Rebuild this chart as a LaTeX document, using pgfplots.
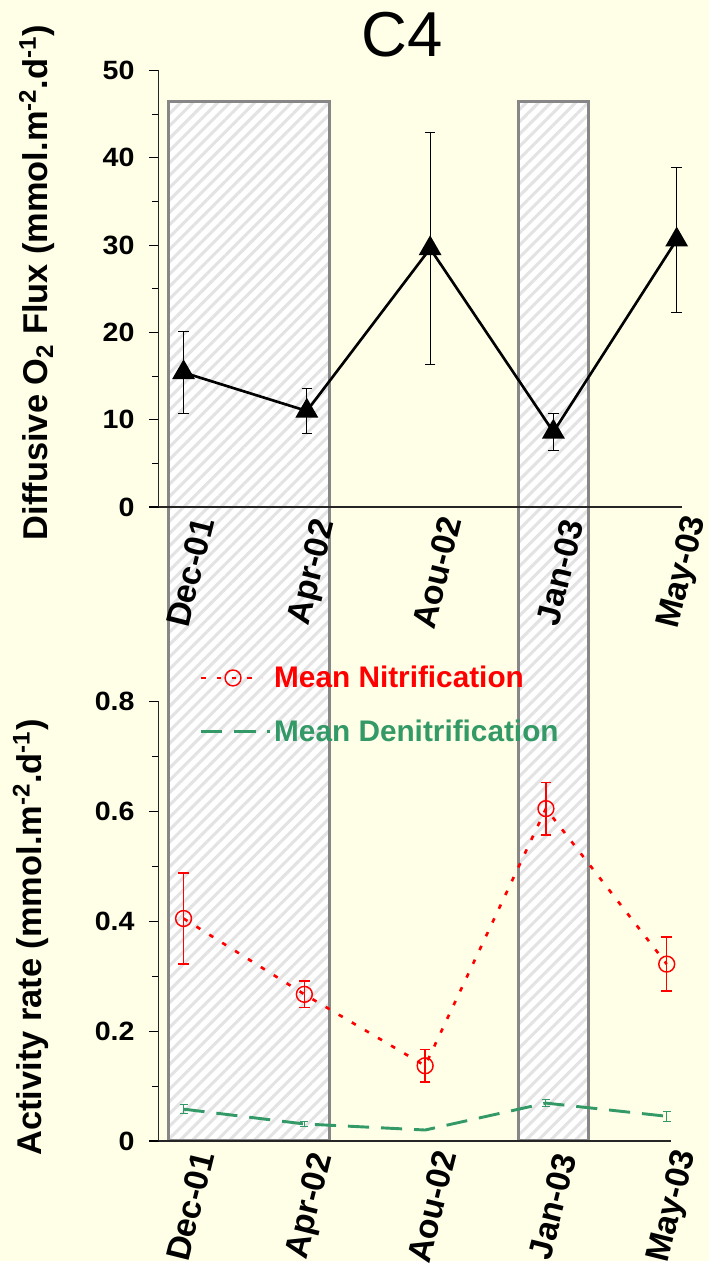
\documentclass[border=0pt]{standalone}
\usepackage{fontspec}
\setmainfont{Liberation Sans}
\usepackage{pgfplots}
\pgfplotsset{compat=1.18}
\usetikzlibrary{patterns.meta}
\definecolor{bg}{HTML}{FFFFE8}
\definecolor{dgreen}{HTML}{339966}
\definecolor{bargray}{HTML}{878787}
\definecolor{hatch}{HTML}{E3E3E3}
\pgfplotsset{
  common/.style={
    scale only axis,
    anchor=south west,
    axis x line=bottom, axis y line=left,
    axis line style={-, line width=0.8pt, black!85},
    tick align=outside,
    major tick length=7.5pt, minor tick length=5pt,
    every tick/.style={black, line width=0.8pt},
    xtick={0,1,2,3,4},
    xticklabels={Dec-01,Apr-02,Aou-02,Jan-03,May-03},
    xtick style={draw=none},
    xticklabel style={font=\bfseries\fontsize{25.5}{30}\selectfont, yshift=-42pt, xshift=5pt, rotate=76, anchor=center},
    yticklabel style={font=\bfseries\fontsize{20}{24}\selectfont, xshift=-7pt, xscale=1.08},
    /pgf/number format/assume math mode=true,
    ylabel style={font=\bfseries\fontsize{26}{30}\selectfont, anchor=center},
    clip=false,
  },
  nitrleg/.style={legend image code/.code={\draw[mark repeat=2,mark phase=2,##1] plot coordinates {(0pt,0pt) (24pt,0pt) (46pt,0pt)};}},
  denileg/.style={legend image code/.code={\draw[##1] (0pt,0pt) -- (52pt,0pt);}},
}
\begin{document}
\begin{tikzpicture}
\fill[bg] (0,0) rectangle (536.25pt,-953.25pt);
% shaded periods spanning both panels
\begin{axis}[at={(120pt,-861.75pt)}, anchor=south west, scale only axis,
  width=395.25pt, height=785.25pt, xmin=-0.2012, xmax=4.040, ymin=0, ymax=1,
  hide axis, clip=false]
\addplot[draw=bargray, line width=2.2pt, fill=white,
  postaction={pattern color=hatch, pattern={Lines[angle=45,distance=6.6pt,line width=2.3pt]}}]
  coordinates {(-0.121,0) (-0.121,1) (1.183,1) (1.183,0)} --cycle;
\addplot[draw=bargray, line width=2.2pt, fill=white,
  postaction={pattern color=hatch, pattern={Lines[angle=45,distance=6.6pt,line width=2.3pt]}}]
  coordinates {(2.72,0) (2.72,1) (3.284,1) (3.284,0)} --cycle;
\end{axis}
% top panel
\begin{axis}[common, at={(120pt,-383.25pt)}, width=395.25pt, height=330pt,
  xmin=-0.2012, xmax=4.040, ymin=0, ymax=50, ytick={0,10,...,50}, minor y tick num=1,
  ylabel={Diffusive O\textsubscript{2} Flux (mmol.m\textsuperscript{-2}.d\textsuperscript{-1})},
  ylabel style={at={(axis description cs:-0.233,0.514)}}]
\addplot[black, line width=2pt, mark=triangle*, mark size=8pt, mark options={solid},
  error bars/.cd, y dir=both, y explicit,
  error bar style={line width=0.8pt, black},
  error mark options={rotate=90, mark size=4pt, line width=0.8pt, black}]
  coordinates {(0,15.4) +- (0,4.7) (1,11.0) +- (0,2.6) (2,29.6) +- (0,13.3) (3,8.6) +- (0,2.1) (4,30.6) +- (0,8.3)};
\end{axis}
% bottom panel
\begin{axis}[common, at={(120pt,-862.5pt)}, width=387pt, height=332.25pt,
  xmin=-0.2053, xmax=4.0329, ymin=0, ymax=0.8, ytick={0,0.2,0.4,0.6,0.8}, minor y tick num=1,
  yticklabel style={/pgf/number format/fixed, /pgf/number format/precision=1},
  ylabel={Activity rate (mmol.m\textsuperscript{-2}.d\textsuperscript{-1})},
  ylabel style={at={(axis description cs:-0.25,0.463)}},
  legend style={at={(axis description cs:0.072,1.093)}, anchor=north west, draw=none, fill=none,
    font=\bfseries\fontsize{22.5}{26}\selectfont, row sep=19pt},
  legend cell align=left]
\addplot[red, line width=2pt, dash pattern=on 3.5pt off 8pt, mark=o, mark size=6pt,
  mark options={solid, line width=1.1pt}, nitrleg,
  error bars/.cd, y dir=both, y explicit,
  error bar style={line width=1.1pt, solid, red},
  error mark options={rotate=90, mark size=4pt, line width=1.1pt, red}]
  coordinates {(0,0.405) +- (0,0.083) (1,0.267) +- (0,0.024) (2,0.137) +- (0,0.030) (3,0.605) +- (0,0.048) (4,0.322) +- (0,0.049)};
\addlegendentry{\textcolor{red}{Mean Nitrification}}
\addplot[dgreen, line width=2.2pt, dash pattern=on 16pt off 9pt, mark=none, denileg,
  error bars/.cd, y dir=both, y explicit,
  error bar style={line width=0.8pt, solid, dgreen},
  error mark options={rotate=90, mark size=3pt, line width=0.8pt, dgreen}]
  coordinates {(0,0.058) +- (0,0.008) (1,0.031) +- (0,0.004) (2,0.020) +- (0,0.001) (3,0.069) +- (0,0.006) (4,0.045) +- (0,0.009)};
\addlegendentry{\textcolor{dgreen}{Mean Denitrification}}
\end{axis}
\node[font=\fontsize{48}{56}\selectfont] at (303.75pt,-26.25pt) {C4};
\end{tikzpicture}
\end{document}
